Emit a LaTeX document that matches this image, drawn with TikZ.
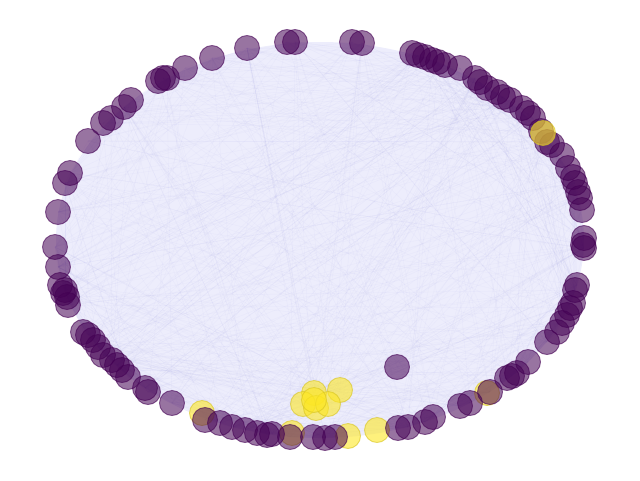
\documentclass[tikz,border=0pt]{standalone}
\usepackage{tikz}
\usetikzlibrary{backgrounds}

\definecolor{vpurple}{HTML}{440154}
\definecolor{vyellow}{HTML}{FDE725}
\definecolor{webfill}{RGB}{237,237,252}
\definecolor{webline}{RGB}{130,130,235}

\tikzset{
	vertex/.style={circle, minimum size=25pt, inner sep=0pt, line width=0.9pt, fill opacity=0.55, draw opacity=0.6},
	purplevertex/.style={vertex, fill=vpurple, draw=vpurple},
	yellowvertex/.style={vertex, fill=vyellow, draw=vyellow!85!black, fill opacity=0.6},
	edge/.style={draw=webline, opacity=0.05, line width=0.4pt}
}

\begin{document}
\begin{tikzpicture}[x=1pt, y=-1pt]
			\useasboundingbox (0,0) rectangle (640,480);
			% yellow vertices lying under the ring
			\foreach \x/\y [count=\i] in {202/413, 292/433, 348/436, 377/430, 487/393}
			\node[yellowvertex] (yb\i) at (\x,\y) {};
			% purple vertices, clockwise from the top
			\foreach \x/\y [count=\i] in {
				247/48, 287/42, 295/42, 352/42, 362/43, 212/58, 185/68, 158/81, 163/78, 167/78, 131/100, 124/107, 111/118, 103/123, 88/141,
				70/173, 65/183, 58/212, 55/247, 58/267, 60/285, 65/290, 63/293, 67/297, 68/305,
				83/332, 88/335, 93/340, 98/347, 103/355, 112/360, 117/365, 122/370, 128/377, 145/388, 148/392, 172/403,
				205/420, 220/423, 232/427, 245/430, 257/433, 267/435, 272/434, 290/437, 313/437, 325/438, 335/437, 398/428, 408/427, 425/422, 433/417, 460/406, 470/403, 490/392,
				507/378, 512/376, 517/373, 528/362, 547/342, 557/332, 562/323, 567/315, 570/308, 573/303, 577/285, 575/290,
				584/238, 583/245, 584/248, 582/210, 580/198, 578/192, 575/183, 573/177, 568/168, 562/155, 552/145, 547/142,
				533/118, 528/113, 522/108, 510/100, 503/97, 497/92, 487/88, 480/82, 475/78, 460/68, 445/65, 438/62, 432/60, 425/57, 418/55, 412/53,
				397/367, 541/131}
			\node[purplevertex] (p\i) at (\x,\y) {};
			% yellow vertices on top
			\foreach \x/\y [count=\i] in {543/133, 340/390, 314/393, 303/404, 316/408, 328/404, 314/400}
			\node[yellowvertex] (yt\i) at (\x,\y) {};
			% the web of edges
			\begin{pgfonlayer}{background}
				\fill[webfill] (320,240) ellipse [x radius=264, y radius=198];
				\pgfmathsetseed{7}
				\foreach \k in {1,...,600} {
					\pgfmathrandominteger{\a}{1}{97}
					\pgfmathrandominteger{\b}{1}{97}
					\draw[edge] (p\a.center) -- (p\b.center);
				}
				\foreach \k in {1,...,7}
				\foreach \j in {1,5,12,20,30,41,55,70,88}
				\draw[edge] (yt\k.center) -- (p\j.center);
			\end{pgfonlayer}
		\end{tikzpicture}
\end{document}
